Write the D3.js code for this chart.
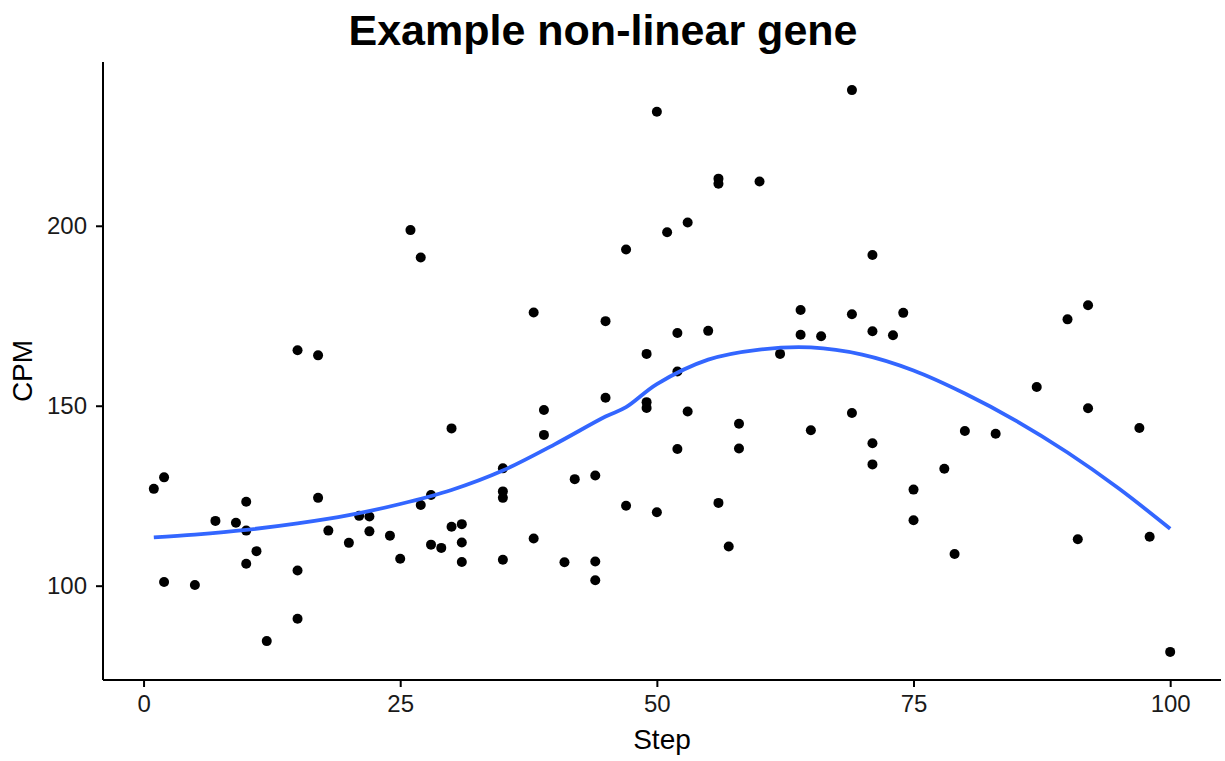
<!DOCTYPE html>
<html>
  <head>
    <title>Example non-linear gene</title>
    <script src="https://cdn.jsdelivr.net/npm/d3@7/dist/d3.min.js"></script>
    <style>
      body { margin: 0; background: #fff; }
      text { font-family: "Liberation Sans", Arial, sans-serif; }
    </style>
  </head>
  <body>
    <svg id="svg" width="1225" height="761" xmlns="http://www.w3.org/2000/svg"></svg>
    <script>
      let steps = [1, 2, 2, 5, 7, 9, 10, 10, 10, 11, 12, 15, 15, 15, 17, 17, 18, 20, 21, 22, 22,
        24, 25, 26, 27, 27, 28, 28, 29, 30, 30, 31, 31, 31, 35, 35, 35, 35,
        38, 38, 39, 39, 41, 42, 44, 44, 44, 45, 45, 47, 47, 49, 49, 49, 50, 50, 51,
        52, 52, 52, 53, 53, 55, 56, 56, 56, 57, 58, 58, 60, 62, 64, 64, 65, 66,
        69, 69, 69, 71, 71, 71, 71, 73, 74, 75, 75, 78, 79, 80, 83, 87, 90, 91, 92, 92, 97, 98, 100];
      let cpm = [126.9, 130.1, 101.0, 100.2, 118.0, 117.5, 123.3, 115.3, 106.1, 109.6, 84.6, 165.4, 104.2, 90.8, 164.0, 124.4, 115.3, 111.9, 119.4, 119.2, 115.1,
        113.9, 107.5, 198.8, 191.2, 122.4, 125.2, 111.4, 110.5, 143.7, 116.4, 117.1, 112.0, 106.6, 132.6, 126.2, 124.4, 107.2,
        175.9, 113.1, 148.8, 141.9, 106.5, 129.6, 130.6, 106.7, 101.5, 173.5, 152.2, 193.4, 122.2, 164.4, 151.0, 149.4, 231.7, 120.4, 198.2,
        170.2, 159.5, 138.0, 200.9, 148.4, 170.8, 213.1, 211.7, 123.0, 110.9, 145.0, 138.1, 212.3, 164.4, 176.6, 169.7, 143.2, 169.3,
        237.7, 175.4, 148.0, 191.9, 170.7, 139.6, 133.7, 169.6, 175.8, 126.7, 118.2, 132.5, 108.8, 143.0, 142.2, 155.2, 174.0, 112.9, 177.9, 149.3, 143.8, 113.6, 81.6];

      // Smooth (loess) fit
      let fitSteps = [1, 5, 10, 15, 20, 25, 30, 35, 40, 45, 47, 50, 55, 60, 65, 70, 75, 80, 85, 90, 95, 100];
      let fitCpm = [113.4, 114.2, 115.5, 117.3, 119.6, 122.7, 126.6, 132.0, 139.2, 147.0, 149.6, 156.0, 162.8, 165.6, 166.2, 164.2, 159.8, 153.4, 145.8, 137.0, 127.0, 115.8];

      let xTicks = [0, 25, 50, 75, 100];
      let yTicks = [100, 150, 200];

      let svg = d3.select("svg");
      let margin = { left: 103, top: 62, right: 4, bottom: 81 };
      let width = 1225 - margin.left - margin.right;
      let height = 761 - margin.top - margin.bottom;

      // ggplot style 5% padding on each side
      function padded(ext) {
        let pad = (ext[1] - ext[0]) * 0.05;
        return [ext[0] - pad, ext[1] + pad];
      }
      let x = d3.scaleLinear().domain(padded(d3.extent(steps))).range([0, width]);
      let y = d3.scaleLinear().domain(padded(d3.extent(cpm))).range([height, 0]);

      let g = svg.append("g").attr("transform", "translate(" + margin.left + "," + margin.top + ")");

      // Axes
      let xAxis = g.append("g")
        .attr("transform", "translate(0," + height + ")")
        .call(d3.axisBottom(x).tickValues(xTicks).tickSize(7).tickPadding(8).tickSizeOuter(0));
      let yAxis = g.append("g")
        .call(d3.axisLeft(y).tickValues(yTicks).tickSize(7).tickPadding(9).tickSizeOuter(0));

      [xAxis, yAxis].forEach(function (a) {
        a.select(".domain").attr("stroke", "#000").attr("stroke-width", 2);
        a.selectAll(".tick line").attr("stroke", "#000").attr("stroke-width", 2);
        a.selectAll(".tick text")
          .attr("fill", "#1a1a1a")
          .style("font-size", "24px")
          .style("font-family", "'Liberation Sans', Arial, sans-serif");
      });
      // extend the domain lines across the whole panel
      xAxis.select(".domain").attr("d", "M0,0H" + width);
      yAxis.select(".domain").attr("d", "M0,0V" + height);

      // Points
      g.selectAll(".pt")
        .data(steps)
        .enter()
        .append("circle")
        .attr("class", "pt")
        .attr("cx", (d) => x(d))
        .attr("cy", (d, i) => y(cpm[i]))
        .attr("r", 5)
        .attr("fill", "#000");

      // Fitted curve
      let line = d3.line()
        .x((d) => x(d))
        .y((d, i) => y(fitCpm[i]))
        .curve(d3.curveCatmullRom.alpha(0.5));
      g.append("path")
        .attr("d", line(fitSteps))
        .attr("fill", "none")
        .attr("stroke", "#3366FF")
        .attr("stroke-width", 3.8);

      // Titles
      svg.append("text")
        .attr("x", 603)
        .attr("y", 45)
        .attr("text-anchor", "middle")
        .style("font-size", "43px")
        .style("font-weight", "bold")
        .text("Example non-linear gene");

      svg.append("text")
        .attr("x", margin.left + width / 2)
        .attr("y", 749)
        .attr("text-anchor", "middle")
        .style("font-size", "28px")
        .text("Step");

      svg.append("text")
        .attr("transform", "translate(31.5," + (margin.top + height / 2) + ") rotate(-90)")
        .attr("text-anchor", "middle")
        .style("font-size", "28px")
        .text("CPM");
    </script>
  </body>
</html>
